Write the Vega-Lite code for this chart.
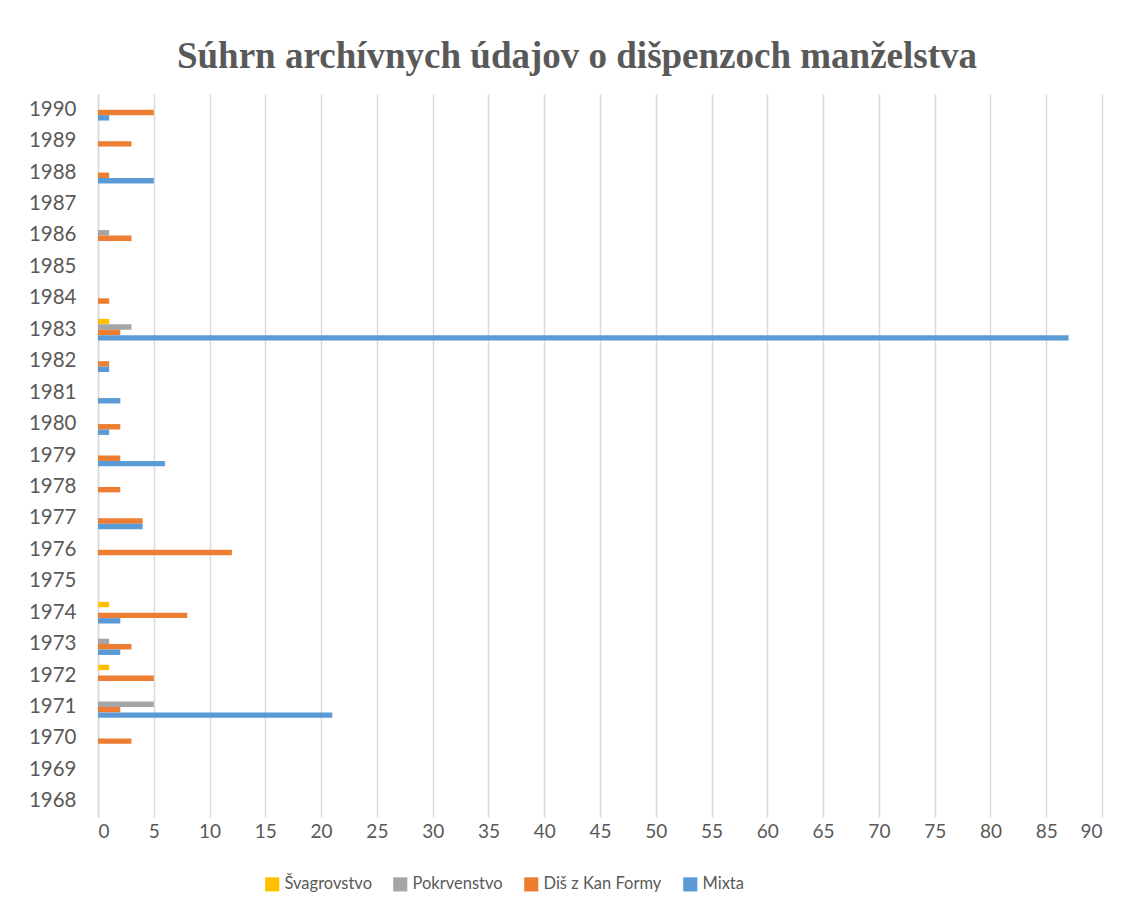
{
  "$schema": "https://vega.github.io/schema/vega-lite/v6.json",
  "width": 1004,
  "height": 723,
  "autosize": "none",
  "padding": {"left": 98, "top": 94, "right": 27, "bottom": 95},
  "background": "white",
  "title": {
    "text": "Súhrn archívnych údajov o dišpenzoch manželstva",
    "font": "Liberation Serif",
    "fontSize": 37,
    "fontWeight": "bold",
    "color": "#595959",
    "anchor": "middle",
    "dx": -23,
    "offset": 18
  },
  "data": {
    "values": [
      {"rok": "1990", "typ": "Diš z Kan Formy", "pocet": 5},
      {"rok": "1990", "typ": "Mixta", "pocet": 1},
      {"rok": "1989", "typ": "Diš z Kan Formy", "pocet": 3},
      {"rok": "1988", "typ": "Diš z Kan Formy", "pocet": 1},
      {"rok": "1988", "typ": "Mixta", "pocet": 5},
      {"rok": "1986", "typ": "Pokrvenstvo", "pocet": 1},
      {"rok": "1986", "typ": "Diš z Kan Formy", "pocet": 3},
      {"rok": "1984", "typ": "Diš z Kan Formy", "pocet": 1},
      {"rok": "1983", "typ": "Švagrovstvo", "pocet": 1},
      {"rok": "1983", "typ": "Pokrvenstvo", "pocet": 3},
      {"rok": "1983", "typ": "Diš z Kan Formy", "pocet": 2},
      {"rok": "1983", "typ": "Mixta", "pocet": 87},
      {"rok": "1982", "typ": "Diš z Kan Formy", "pocet": 1},
      {"rok": "1982", "typ": "Mixta", "pocet": 1},
      {"rok": "1981", "typ": "Mixta", "pocet": 2},
      {"rok": "1980", "typ": "Diš z Kan Formy", "pocet": 2},
      {"rok": "1980", "typ": "Mixta", "pocet": 1},
      {"rok": "1979", "typ": "Diš z Kan Formy", "pocet": 2},
      {"rok": "1979", "typ": "Mixta", "pocet": 6},
      {"rok": "1978", "typ": "Diš z Kan Formy", "pocet": 2},
      {"rok": "1977", "typ": "Diš z Kan Formy", "pocet": 4},
      {"rok": "1977", "typ": "Mixta", "pocet": 4},
      {"rok": "1976", "typ": "Diš z Kan Formy", "pocet": 12},
      {"rok": "1974", "typ": "Švagrovstvo", "pocet": 1},
      {"rok": "1974", "typ": "Diš z Kan Formy", "pocet": 8},
      {"rok": "1974", "typ": "Mixta", "pocet": 2},
      {"rok": "1973", "typ": "Pokrvenstvo", "pocet": 1},
      {"rok": "1973", "typ": "Diš z Kan Formy", "pocet": 3},
      {"rok": "1973", "typ": "Mixta", "pocet": 2},
      {"rok": "1972", "typ": "Švagrovstvo", "pocet": 1},
      {"rok": "1972", "typ": "Diš z Kan Formy", "pocet": 5},
      {"rok": "1971", "typ": "Pokrvenstvo", "pocet": 5},
      {"rok": "1971", "typ": "Diš z Kan Formy", "pocet": 2},
      {"rok": "1971", "typ": "Mixta", "pocet": 21},
      {"rok": "1970", "typ": "Diš z Kan Formy", "pocet": 3}
    ]
  },
  "mark": {"type": "bar"},
  "encoding": {
    "y": {
      "field": "rok",
      "type": "ordinal",
      "scale": {
        "domain": ["1990","1989","1988","1987","1986","1985","1984","1983","1982","1981","1980","1979","1978","1977","1976","1975","1974","1973","1972","1971","1970","1969","1968"],
        "paddingInner": 0.31,
        "paddingOuter": 0.155
      },
      "axis": {
        "title": null,
        "labelFont": "Lato",
        "labelFontSize": 20.5,
        "labelColor": "#595959",
        "labelPadding": 22,
        "ticks": false,
        "domain": true,
        "domainColor": "#d9d9d9",
        "domainWidth": 1.5,
        "grid": false
      }
    },
    "yOffset": {
      "field": "typ",
      "type": "nominal",
      "scale": {"domain": ["Švagrovstvo", "Pokrvenstvo", "Diš z Kan Formy", "Mixta"], "paddingInner": 0, "paddingOuter": 0}
    },
    "x": {
      "field": "pocet",
      "type": "quantitative",
      "scale": {"domain": [0, 90], "nice": false},
      "axis": {
        "title": null,
        "values": [0,5,10,15,20,25,30,35,40,45,50,55,60,65,70,75,80,85,90],
        "labelFont": "Lato",
        "labelFontSize": 19,
        "labelColor": "#595959",
        "labelPadding": 5,
        "ticks": false,
        "domain": false,
        "grid": true,
        "gridColor": "#d9d9d9",
        "gridWidth": 1.5
      }
    },
    "color": {
      "field": "typ",
      "type": "nominal",
      "scale": {
        "domain": ["Švagrovstvo", "Pokrvenstvo", "Diš z Kan Formy", "Mixta"],
        "range": ["#ffc000", "#a5a5a5", "#ed7d31", "#5b9bd5"]
      },
      "legend": {
        "title": null,
        "orient": "none",
        "legendX": 166,
        "legendY": 782,
        "direction": "horizontal",
        "symbolType": "square",
        "symbolSize": 200,
        "symbolStrokeWidth": 0,
        "symbolOpacity": 1,
        "labelFont": "Lato",
        "labelFontSize": 16.5,
        "labelColor": "#595959",
        "labelOffset": 4,
        "columnPadding": 20
      }
    }
  },
  "config": {
    "view": {"stroke": null}
  }
}
